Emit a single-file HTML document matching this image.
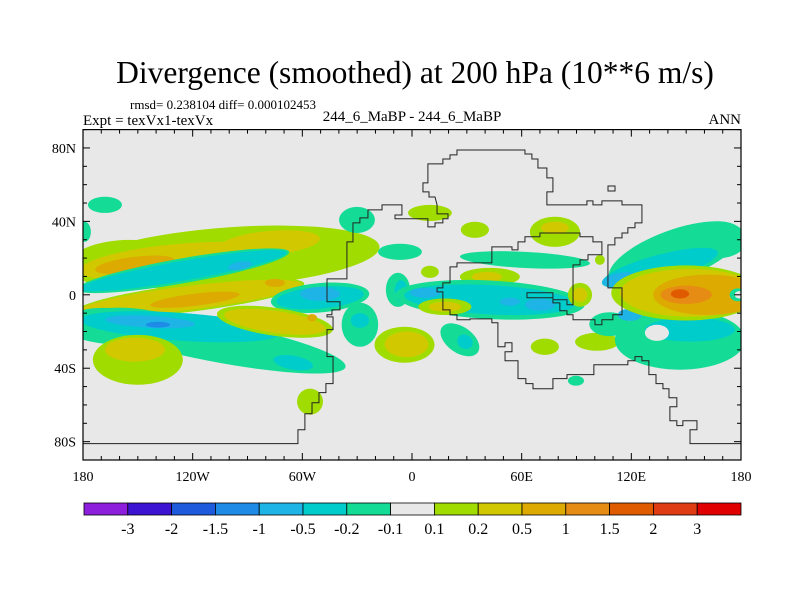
<!DOCTYPE html>
<html><head><meta charset="utf-8"><style>
body{margin:0;background:#fff;}
svg text{font-family:"Liberation Serif",serif;fill:#000;}
</style></head><body>
<svg id="chart" width="800" height="600" viewBox="0 0 800 600" xmlns="http://www.w3.org/2000/svg">
<text x="415" y="83" font-size="31.5" text-anchor="middle">Divergence (smoothed) at 200 hPa (10**6 m/s)</text>
<text x="130" y="109" font-size="13">rmsd= 0.238104 diff= 0.000102453</text>
<text x="83" y="125" font-size="15">Expt = texVx1-texVx</text>
<text x="412" y="121" font-size="15" text-anchor="middle">244_6_MaBP - 244_6_MaBP</text>
<text x="741" y="124" font-size="15" text-anchor="end">ANN</text>
<defs><clipPath id="pc"><rect x="83" y="129.6" width="658" height="330.4"/></clipPath></defs>
<rect x="83" y="129.6" width="658" height="330.4" fill="#e8e8e8"/>
<g id="blobs" clip-path="url(#pc)"></g>
<g id="coast" clip-path="url(#pc)"></g>
<g id="axes"></g>
<g id="cbar"></g>
</svg>
<script>
const levelLabels=["-3","-2","-1.5","-1","-0.5","-0.2","-0.1","0.1","0.2","0.5","1","1.5","2","3"];
const levelValues=[-3,-2,-1.5,-1,-0.5,-0.2,-0.1,0.1,0.2,0.5,1,1.5,2,3];
const palette=['#8c1edc','#3c14d2','#1e5adc','#1e8ce6','#1eb4e6','#00cccc','#14dc96','#e8e8e8','#a0dc00','#d2c800','#dcaa00','#e68c14','#e05a00','#e03c14','#e00000'];
const xTickLabels=["180","120W","60W","0","60E","120E","180"];
const xTickLons=[-180,-120,-60,0,60,120,180];
const yTickLabels=["80N","40N","0","40S","80S"];
const yTickLats=[80,40,0,-40,-80];
// anomaly features: [lon, lat, radiusLon, radiusLat, tilt, value]
const blobLon=[-99.6,-154.3,-30.1,-168,-179,-127,-77.7,-151.6,-125.3,-125.3,-94.1,-121.5,-121.5,-118.7,-75,-50.3,-50.3,-50.3,-110,-160,-127,-143.3,-139,-65,-75,-75,-54.7,-150,-151.6,-55.8,-28.5,-28.5,-6.6,-7.7,-6,-4.1,-3,9.8,34.4,78.2,78.2,61.8,9.8,42.6,41,42.6,42.6,7.1,70,53.6,18,18,26.2,29,72.7,101.2,89.7,91.9,91.9,102.8,143.9,168,135.6,113.8,146.6,108,152.1,119.2,134,150,152.1,162,150,146.6,178.3,179];
const blobLat=[20.5,16.3,40.8,49,34.3,18,28.3,16.3,13.1,13.1,15.8,-1.6,-1.6,-2.7,6.5,-1.6,-1.6,0.5,-25,-17,-17.4,-14.7,-16.3,-37,-14.7,-14.7,-12.5,-35.4,-29.9,-58.2,-16.3,-14,23.4,2.7,2,-27.2,-27,44.6,35.4,34.3,36.5,19,12.5,9.8,9.8,-2.7,-2.7,1.1,-5.4,-3.8,-6.5,-6.5,-24.5,-25.6,-28.3,-25.6,-46.8,0,0,19,21.8,30,14.7,8.2,-24.5,-16,-19,-10.9,-20.7,1,1.1,0,0,0.5,0,0];
const blobRLon=[82,33,9.8,9.3,3.3,54.7,27.4,21.9,59,57.4,6.6,63,61.3,24.6,5.5,27,24,11,75,30,54.7,24.6,6.6,11,32,28,2.7,24.6,16.4,7.1,10,5,12,6.6,3.5,16.4,12,12,7.7,13.7,7.7,35.6,4.9,16.4,8.2,52,47,8.2,8.2,5.5,14.5,9,12,4.4,7.7,12,4.4,6.6,4,2.7,38.3,15,32.8,9.8,35.6,11,24.6,6.6,6.6,41,38.3,30,14,5,4.5,2.5];
const blobRLat=[16.3,13.6,7.1,4.4,5.4,9.8,6.5,4.4,6.8,5.4,2.2,7.6,6.5,3.3,2.2,8,6,3.8,11,10,7.6,3.3,1.6,3.8,7.6,6,2,13.6,6.5,7.1,12,4,4.4,9.3,6,9.8,7,4.4,4.4,8.2,3.3,4.4,3.3,4.9,2.7,10.5,8,2.7,3.3,2.2,4.5,2.7,7.1,3.8,4.4,4.9,2.7,6.5,4,2.7,13.6,10,7.1,3.8,16.3,6.5,6.5,3.3,4.4,15,13,11,5,2.5,3.5,2];
const blobTilt=[-4,0,0,0,0,-5,-5,-7,-10,-10,-10,-7,-7,-7,0,-5,-5,0,11,0,4,3,0,10,8,8,0,0,0,0,0,0,0,0,0,0,0,0,0,0,0,3,0,0,0,3,3,0,0,0,0,0,35,35,0,0,0,0,0,0,-20,0,-15,-10,0,0,0,0,0,0,0,0,0,0,0,0];
const blobVal=[0.15,0.15,-0.15,-0.15,-0.15,0.3,0.3,0.7,-0.15,-0.3,-0.7,0.15,0.3,0.7,0.7,-0.15,-0.3,-0.7,-0.15,-0.15,-0.3,-0.7,-1.2,-0.3,0.15,0.3,0.7,0.15,0.3,0.15,-0.15,-0.3,-0.15,-0.15,-0.3,0.15,0.3,0.15,0.15,0.15,0.3,-0.15,0.15,0.15,0.3,-0.15,-0.3,-0.7,-0.7,-0.7,0.15,0.3,-0.15,-0.3,0.15,0.15,-0.15,0.15,0.3,0.15,-0.15,-0.15,-0.3,-0.7,-0.15,-0.15,-0.3,-0.7,0,0.15,0.3,0.7,1.2,1.7,-0.15,0];
const coastPx=[[83,444],[298,444],[298,430],[305,430],[305,414],[312,414],[312,403],[319,403],[319,393],[326,393],[326,384],[333,384],[333,357],[327,357],[327,330],[333,330],[333,317],[327,317],[327,315],[332,315],[332,310],[340,310],[340,302],[327,302],[327,279],[347,279],[347,242],[353,242],[353,223],[360,223],[360,218],[368,218],[368,210],[382,210],[382,205],[402,205],[402,215],[395,215],[395,219],[428,219],[428,227],[435,227],[435,223],[443,223],[443,219],[448,219],[448,214],[437,214],[437,205],[435,197],[429,197],[429,192],[423,192],[423,183],[428,183],[428,164],[443,164],[443,159],[450,159],[450,155],[457,155],[457,150],[525,150],[525,154],[532,154],[532,159],[538,159],[538,168],[547,168],[547,178],[553,178],[553,192],[547,192],[547,205],[587,205],[587,201],[593,201],[593,205],[602,205],[602,201],[622,201],[622,205],[642,205],[642,223],[635,223],[635,228],[628,228],[628,233],[622,233],[622,238],[615,238],[615,245],[608,245],[608,288],[622,288],[622,315],[613,315],[613,320],[602,320],[602,325],[595,325],[595,320],[573,320],[573,315],[567,315],[567,311],[560,311],[560,303],[553,303],[553,298],[527,298],[527,293],[553,293],[553,300],[567,300],[567,305],[573,305],[573,265],[580,265],[580,260],[588,260],[588,255],[602,255],[602,242],[593,242],[593,237],[580,237],[580,233],[540,233],[540,237],[525,237],[525,242],[518,242],[518,250],[512,250],[512,247],[492,247],[492,263],[457,263],[457,267],[450,267],[450,283],[443,283],[443,288],[437,288],[437,292],[443,292],[443,310],[450,310],[450,315],[457,315],[457,320],[470,320],[470,319],[492,319],[492,323],[498,323],[498,347],[505,347],[505,343],[512,343],[512,352],[505,352],[505,361],[518,361],[518,379],[526,379],[526,384],[533,384],[533,389],[553,389],[553,379],[567,379],[567,375],[594,375],[594,365],[628,365],[628,361],[635,361],[635,357],[642,357],[642,361],[649,361],[649,375],[656,375],[656,384],[663,384],[663,389],[669,389],[669,398],[677,398],[677,407],[670,407],[670,421],[677,421],[677,426],[683,426],[683,421],[697,421],[697,430],[690,430],[690,444],[741,444]];
const coastLon=coastPx.map(p=>Math.round(((p[0]-83)/1.828-180)*10)/10);
const coastLat=coastPx.map(p=>Math.round(((295-p[1])/1.8375)*10)/10);

const X0=83,X1=741,Y0=129.6,Y1=460;
const xs=lon=>X0+(lon+180)/360*(X1-X0);
const ys=lat=>Y1-(lat+90)/180*(Y1-Y0);
const kx=(X1-X0)/360, ky=(Y1-Y0)/180;
const NS="http://www.w3.org/2000/svg";
function mk(tag,attrs,parent){const e=document.createElementNS(NS,tag);for(const k in attrs)e.setAttribute(k,attrs[k]);parent.appendChild(e);return e;}
function colorFor(v){let i=0;while(i<levelValues.length&&v>=levelValues[i])i++;return palette[i];}

const gB=document.getElementById('blobs');
for(let i=0;i<blobLon.length;i++){
  const cx=xs(blobLon[i]),cy=ys(blobLat[i]);
  const e=mk('ellipse',{cx:cx,cy:cy,rx:blobRLon[i]*kx,ry:blobRLat[i]*ky,fill:colorFor(blobVal[i]),transform:`rotate(${blobTilt[i]} ${cx} ${cy})`},gB);
  
  
}
const gC=document.getElementById('coast');
const cl=mk('polyline',{points:coastLon.map((l,i)=>xs(l)+','+ys(coastLat[i])).join(' '),fill:'none',stroke:'#222',"stroke-width":1},gC);


const sq=mk('rect',{x:608,y:186,width:7,height:5,fill:'none',stroke:'#222','stroke-width':1},gC);



const gA=document.getElementById('axes');
const fr=mk('rect',{x:X0,y:Y0,width:X1-X0,height:Y1-Y0,fill:'none',stroke:'#000','stroke-width':1.2},gA);


for(let lon=-180;lon<=180;lon+=10){
  const x=xs(lon),L=(lon%60===0)?7:4;
  mk('line',{x1:x,y1:Y1,x2:x,y2:Y1-L,stroke:'#000'},gA);
  mk('line',{x1:x,y1:Y0,x2:x,y2:Y0+L,stroke:'#000'},gA);
}
for(let lat=-90;lat<=90;lat+=10){
  const y=ys(lat),L=(lat%40===0)?7:4;
  mk('line',{x1:X0,y1:y,x2:X0+L,y2:y,stroke:'#000'},gA);
  mk('line',{x1:X1,y1:y,x2:X1-L,y2:y,stroke:'#000'},gA);
}
xTickLabels.forEach((t,i)=>{const e=mk('text',{x:xs(xTickLons[i]),y:481,'font-size':14,'text-anchor':'middle'},gA);e.textContent=t;
  
  });
yTickLabels.forEach((t,i)=>{const e=mk('text',{x:76,y:ys(yTickLats[i])+5,'font-size':14,'text-anchor':'end'},gA);e.textContent=t;
  
  });

const gK=document.getElementById('cbar');
const cb0=84,cb1=741,cw=(cb1-cb0)/palette.length;
palette.forEach((c,i)=>{const r=mk('rect',{x:cb0+i*cw,y:503,width:cw,height:12,fill:c,stroke:'#000','stroke-width':0.8},gK);
  
  });
levelLabels.forEach((t,i)=>{const e=mk('text',{x:cb0+(i+1)*cw,y:534,'font-size':16,'text-anchor':'middle'},gK);e.textContent=t;
  
  });
</script>
</body></html>
